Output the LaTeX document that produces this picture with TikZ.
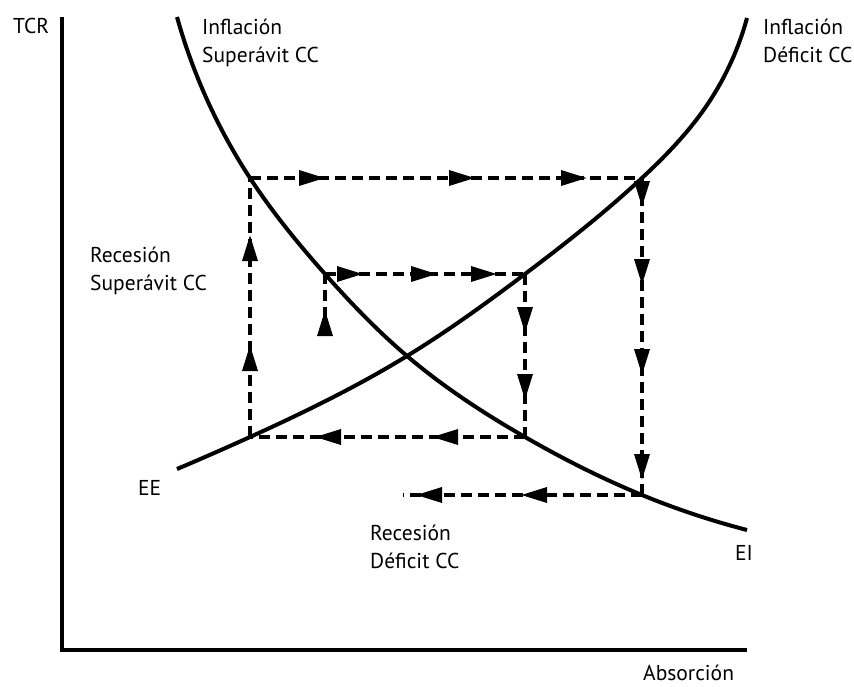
\documentclass[tikz,border=0pt]{standalone}
\usepackage{fontspec}
\setmainfont{PT Sans}
\usetikzlibrary{arrows.meta, decorations.markings, hobby}

\begin{document}
\begin{tikzpicture}[
    x=1pt, y=-1pt,
    curve/.style={line width=4pt},
    axis/.style={line width=4pt},
    flow/.style={line width=3.4pt, dash pattern=on 11pt off 6pt},
    midtip/.style={postaction={decorate, decoration={markings,
        mark=at position #1 with {\arrow{Triangle[length=26pt, width=15pt]}}}}},
    lbl/.style={anchor=base west, align=left, inner sep=0pt,
        font=\fontsize{21.5}{28}\selectfont}
]
\useasboundingbox (0,0) rectangle (854,686);

% axes
\coordinate (ytop) at (62,17);
\coordinate (o) at (62,650);
\coordinate (xend) at (747,650);
\draw[axis] (ytop) -- (o) -- (xend);

% corners of the adjustment path
\coordinate (a) at (250,178);
\coordinate (b) at (642,178);
\coordinate (c) at (642,495);
\coordinate (d) at (403,495);
\coordinate (e) at (250,437);
\coordinate (f) at (525,437);
\coordinate (g) at (325,274);
\coordinate (h) at (525,274);
\coordinate (s) at (325,335);
\coordinate (eq) at (407,356);

% curves EI and EE
\coordinate (ei0) at (177,17);
\coordinate (ei1) at (747,530);
\coordinate (ee0) at (177,469);
\coordinate (ee1) at (747,18);
\draw[curve] (ei0) to[curve through={(a) (g) (eq) (f) (c)}] (ei1);
\draw[curve] (ee0) to[curve through={(e) (eq) (h) (b) (705,108)}] (ee1);

% dashed paths
\draw[flow, midtip=75pt, midtip=225pt, midtip=337pt] (a) -- (b);
\draw[flow, midtip=29pt, midtip=107pt, midtip=197pt, midtip=302pt] (b) -- (c);
\draw[flow, midtip=121pt, midtip=226pt] (c) -- (d);
\draw[flow, midtip=93pt, midtip=210pt] (f) -- (e);
\draw[flow, midtip=92pt, midtip=202pt] (e) -- (a);
\draw[flow, midtip=38pt, midtip=112pt, midtip=172pt] (g) -- (h);
\draw[flow, midtip=59pt, midtip=126pt] (h) -- (f);
\draw[flow, midtip=25pt] (s) -- (g);

% labels
\node[lbl] (tcr) at (13,33) {TCR};
\node[lbl] (abs) at (643,680) {Absorción};
\node[lbl] (infsup) at (202,62) {Inflación\\Superávit CC};
\node[lbl] (infdef) at (763,62) {Inflación\\Déficit CC};
\node[lbl] (recsup) at (90,290) {Recesión\\Superávit CC};
\node[lbl] (recdef) at (370,568) {Recesión\\Déficit CC};
\node[lbl] (eelbl) at (138,495) {EE};
\node[lbl] (eilbl) at (735,560) {EI};
\end{tikzpicture}
\end{document}
